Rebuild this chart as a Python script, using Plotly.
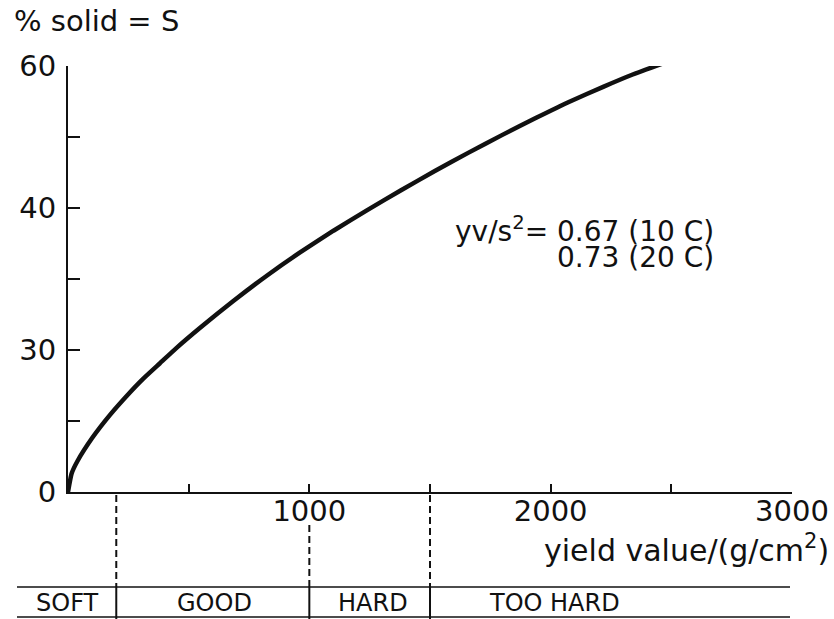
import plotly.graph_objects as go

# Curve
yield_value = [0, 15, 40, 100, 175, 245, 310, 380, 450, 550, 685, 825, 960, 1100,
               1240, 1380, 1520, 1660, 1800, 1940, 2080, 2220, 2340, 2460]
solid_pct = [0, 2.6, 4.4, 7.6, 10.9, 13.6, 15.9, 18.1, 20.3, 23.2, 26.9, 30.5, 33.7, 36.8,
             39.7, 42.5, 45.2, 47.8, 50.3, 52.7, 55.0, 57.1, 58.8, 60.3]

x_tick_vals = [500, 1000, 1500, 2000, 2500, 3000]
x_tick_text = ["", "1000", "", "2000", "", "3000"]
y_tick_vals = [0, 10, 20, 30, 40, 50, 60]
y_tick_text = ["0", "", "30", "", "40", "", "60"]

zone_bounds = [200, 1000, 1500]
zone_names = ["SOFT", "GOOD", "HARD", "TOO HARD"]
zone_label_px = [67, 214, 373, 554]

FONT = "DejaVu Sans"
INK = "#111111"

fig = go.Figure()
fig.add_trace(go.Scatter(
    x=yield_value, y=solid_pct, mode="lines",
    line=dict(color=INK, width=4.5, shape="spline", smoothing=0.5),
    cliponaxis=False, showlegend=False, hoverinfo="skip"))

# plot area: px x 68..792, y 66..492
H = 426.0
W = 724.0
def py(p):
    return (492 - p) / H
def px(p):
    return (p - 68) / W

shapes = []
starts = [495, 525, 495]
for xb, s in zip(zone_bounds, starts):
    shapes.append(dict(type="line", xref="x", yref="paper", x0=xb, x1=xb,
                       y0=py(s), y1=py(587), line=dict(color=INK, width=2, dash="7px,4px")))
    shapes.append(dict(type="line", xref="x", yref="paper", x0=xb, x1=xb,
                       y0=py(587), y1=py(619), line=dict(color=INK, width=2)))
for yy in (587, 617):
    shapes.append(dict(type="line", xref="paper", yref="paper",
                       x0=px(17), x1=px(790), y0=py(yy), y1=py(yy),
                       line=dict(color=INK, width=1.5)))

annotations = [
    dict(text="% solid = S", xref="paper", yref="paper", x=px(12), y=py(21),
         xanchor="left", yanchor="middle", showarrow=False, font=dict(size=29)),
    dict(text="yield value/(g/cm<sup>2</sup>)", xref="paper", yref="paper",
         x=px(831), y=py(548), xanchor="right", yanchor="middle",
         showarrow=False, font=dict(size=30)),
    dict(text="yv/s<sup>2</sup>= 0.67 (10 C)", xref="paper", yref="paper", x=px(716), y=py(229),
         xanchor="right", yanchor="middle", showarrow=False, font=dict(size=28)),
    dict(text="0.73 (20 C)", xref="paper", yref="paper", x=px(716), y=py(257),
         xanchor="right", yanchor="middle", showarrow=False, font=dict(size=28)),
]
for name, xl in zip(zone_names, zone_label_px):
    annotations.append(dict(text=name, xref="paper", yref="paper", x=px(xl), y=py(603),
                            xanchor="center", yanchor="middle", showarrow=False,
                            font=dict(size=24)))

fig.update_layout(
    width=834, height=619,
    margin=dict(l=68, r=42, t=66, b=127),
    paper_bgcolor="white", plot_bgcolor="white",
    font=dict(family=FONT, color=INK),
    shapes=shapes, annotations=annotations,
    xaxis=dict(range=[0, 3000], tickvals=x_tick_vals, ticktext=x_tick_text,
               ticks="inside", ticklen=8, tickwidth=2, tickcolor=INK,
               showline=True, linewidth=2, linecolor=INK, showgrid=False,
               zeroline=False, tickfont=dict(size=29), fixedrange=True,
               automargin=False, ticklabelstandoff=-8),
    yaxis=dict(range=[0, 60], tickvals=y_tick_vals, ticktext=y_tick_text,
               ticks="inside", ticklen=12, tickwidth=2, tickcolor=INK,
               showline=True, linewidth=2, linecolor=INK, showgrid=False,
               zeroline=False, tickfont=dict(size=29), fixedrange=True,
               automargin=False, ticklabelstandoff=4),
)

fig.write_html("out.html", config={"displayModeBar": False},
               post_script="document.body.style.margin='0';")
